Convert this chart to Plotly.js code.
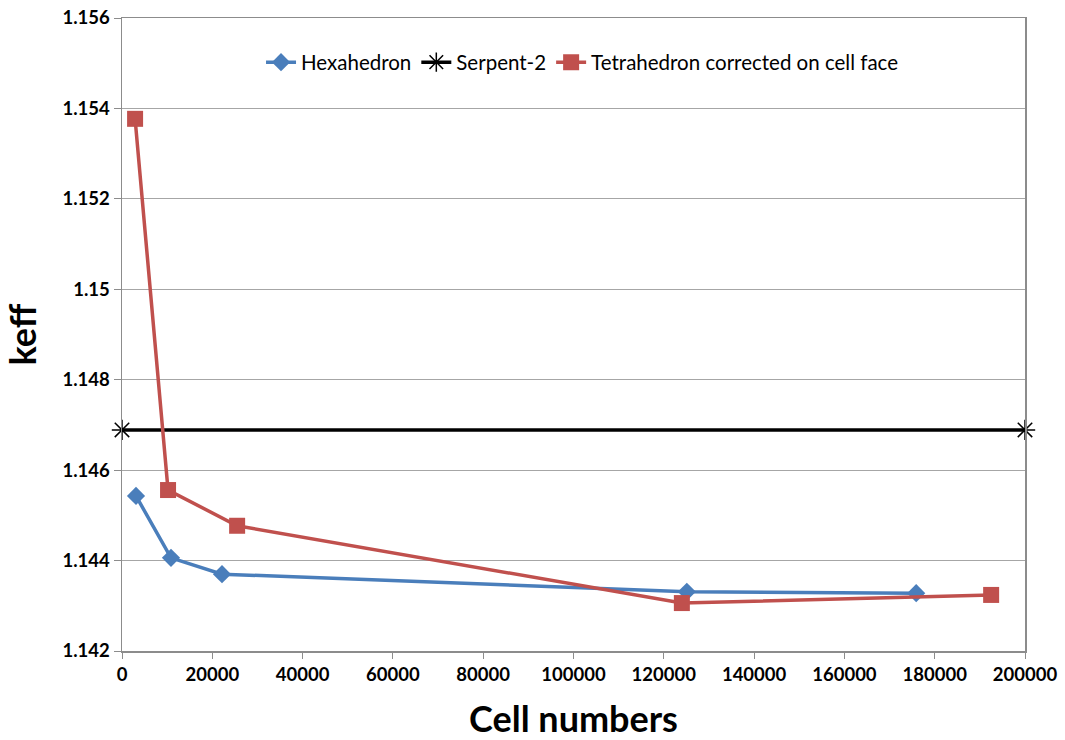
<!DOCTYPE html>
<html>
<head>
<meta charset="utf-8">
<script src="https://cdn.plot.ly/plotly-3.0.1.min.js"></script>
<style>
  html, body { margin: 0; padding: 0; background: #fff; }
  #chart { width: 1065px; height: 740px; }
</style>
</head>
<body>
<div id="chart"></div>
<script>
// Cell counts and keff values per mesh type
const hexaCells = [3100, 10850, 22150, 125100, 175900];
const hexaKeff = [1.14543, 1.14406, 1.14370, 1.14331, 1.14328];

const tetraCells = [2900, 10200, 25500, 124000, 192500];
const tetraKeff = [1.15377, 1.14556, 1.14477, 1.14306, 1.14324];

// Serpent-2 reference value across the whole range
const serpentCells = [0, 200000];
const serpentKeff = [1.14689, 1.14689];

const yTickVals = [1.142, 1.144, 1.146, 1.148, 1.15, 1.152, 1.154, 1.156];
const yTickText = ['1.142', '1.144', '1.146', '1.148', '1.15', '1.152', '1.154', '1.156'];

const blue = '#4A7EBB';
const red = '#C0504D';

const traces = [
  {
    x: hexaCells, y: hexaKeff, name: 'Hexahedron',
    mode: 'lines+markers', type: 'scatter',
    line: { color: blue, width: 3.5 },
    marker: { symbol: 'diamond', size: 14, color: blue }
  },
  {
    x: serpentCells, y: serpentKeff, name: 'Serpent-2',
    mode: 'lines+markers', type: 'scatter',
    line: { color: '#000', width: 3.5 },
    marker: { symbol: 'asterisk-open', size: 17, line: { color: '#000', width: 1.5 } },
    cliponaxis: false
  },
  {
    x: tetraCells, y: tetraKeff, name: 'Tetrahedron corrected on cell face',
    mode: 'lines+markers', type: 'scatter',
    line: { color: red, width: 3.5 },
    marker: { symbol: 'square', size: 16, color: red }
  }
];

const layout = {
  width: 1065, height: 740,
  margin: { l: 122, r: 40, t: 18, b: 89 },
  paper_bgcolor: '#fff', plot_bgcolor: '#fff',
  font: { family: 'Lato, "Open Sans", sans-serif', color: '#000' },
  showlegend: true,
  legend: {
    orientation: 'h', x: 0.51, xanchor: 'center', y: 0.93, yanchor: 'middle',
    font: { size: 20.5, family: 'Lato, sans-serif' },
    bgcolor: 'rgba(0,0,0,0)', tracegroupgap: 0
  },
  xaxis: {
    range: [0, 200000], dtick: 20000, tickformat: 'd',
    showgrid: false, zeroline: false,
    showline: true, linecolor: '#8c8c8c', linewidth: 1.5, mirror: true,
    ticks: 'outside', ticklen: 6, tickcolor: '#8c8c8c',
    tickfont: { size: 18.5, family: 'Lato, sans-serif', weight: 'bold' },
    title: { text: 'Cell numbers', font: { size: 36, family: 'Lato, sans-serif', weight: 'bold' }, standoff: 24 }
  },
  yaxis: {
    range: [1.142, 1.156], tickvals: yTickVals, ticktext: yTickText,
    showgrid: true, gridcolor: '#a6a6a6', gridwidth: 1, zeroline: false,
    showline: true, linecolor: '#8c8c8c', linewidth: 1.5, mirror: true,
    ticks: 'outside', ticklen: 7, tickcolor: '#8c8c8c',
    tickfont: { size: 18.5, family: 'Lato, sans-serif', weight: 'bold' },
    title: { text: 'keff', font: { size: 36, family: 'Lato, sans-serif', weight: 'bold' }, standoff: 16 }
  }
};

Plotly.newPlot('chart', traces, layout, { displayModeBar: false, staticPlot: true });
</script>
</body>
</html>
